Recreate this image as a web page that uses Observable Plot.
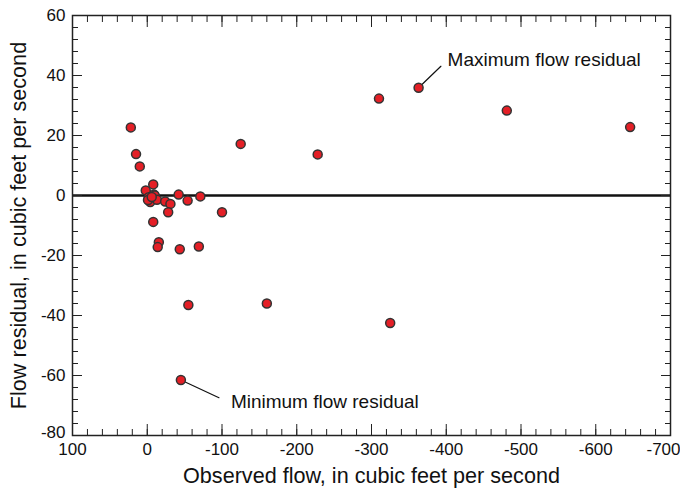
<!DOCTYPE html>
<html>
<head>
<meta charset="utf-8">
<script src="https://cdn.jsdelivr.net/npm/d3@7"></script>
<script src="https://cdn.jsdelivr.net/npm/@observablehq/plot@0.6"></script>
<style>
  html, body { margin: 0; padding: 0; background: #fff; }
  #chart svg { display: block; }
</style>
</head>
<body>
<div id="chart"></div>
<script>
// Observed flow (x) and flow residual (y), cubic feet per second
const observedFlow = [22, 15, 10, -8, 2, -2, -9, -10, -4, -13, -24, -31, -28, -42, -54, -71, -100, -8, -15.5, -14, -43.5, -69, -125, -363, -481, -646, -310, -228, -325, -160, -55, -45, -1, -6];
const flowResidual = [22.7, 13.8, 9.7, 3.7, 1.7, -0.6, 0.3, 0, -2.2, -1.4, -2, -2.8, -5.6, 0.3, -1.7, -0.3, -5.6, -8.8, -15.6, -17.2, -17.9, -17, 17.2, 35.9, 28.3, 22.8, 32.3, 13.7, -42.5, -36, -36.5, -61.5, -1.5, -0.5];

const xTickLabels = [100, 0, -100, -200, -300, -400, -500, -600, -700];
const yTickLabels = [60, 40, 20, 0, -20, -40, -60, -80];
const xMinorTicks = d3.range(100, -701, -20);
const yMinorTicks = d3.range(60, -81, -4);

const xTitle = "Observed flow, in cubic feet per second";
const yTitle = "Flow residual, in cubic feet per second";
const annotations = ["Maximum flow residual", "Minimum flow residual"];

const points = observedFlow.map((x, i) => ({x, y: flowResidual[i]}));

const font = "'Liberation Sans', Arial, sans-serif";
const lineShape = {draw(context, l) { context.moveTo(0, 0); context.lineTo(0, -l); }};
const noText = () => "";
const fmt = d => String(d);

const xLast = xTickLabels[xTickLabels.length - 1];
const yLast = yTickLabels[yTickLabels.length - 1];

const chart = Plot.plot({
  width: 680,
  height: 491,
  marginLeft: 72,
  marginRight: 10,
  marginTop: 15,
  marginBottom: 56,
  x: {domain: [100, -700], label: null},
  y: {domain: [-80, 60], label: null},
  style: {fontFamily: font, fontSize: "17px", color: "#111", background: "#fff"},
  marks: [
    Plot.ruleY([0], {stroke: "#111", strokeWidth: 2.5}),
    // minor ticks (inward)
    Plot.axisX({anchor: "bottom", ticks: xMinorTicks, tickSize: -6, tickFormat: noText, label: null, stroke: "#222"}),
    Plot.axisX({anchor: "top", ticks: xMinorTicks, tickSize: -6, tickFormat: noText, label: null, stroke: "#222"}),
    Plot.axisY({anchor: "left", ticks: yMinorTicks, tickSize: -6, tickFormat: noText, label: null, stroke: "#222"}),
    Plot.axisY({anchor: "right", ticks: yMinorTicks, tickSize: -6, tickFormat: noText, label: null, stroke: "#222"}),
    // major ticks (inward)
    Plot.axisX({anchor: "bottom", ticks: xTickLabels, tickSize: -11, tickFormat: noText, label: null, stroke: "#222"}),
    Plot.axisX({anchor: "top", ticks: xTickLabels, tickSize: -11, tickFormat: noText, label: null, stroke: "#222"}),
    Plot.axisY({anchor: "left", ticks: yTickLabels, tickSize: -10, tickFormat: noText, label: null, stroke: "#222"}),
    Plot.axisY({anchor: "right", ticks: yTickLabels, tickSize: -10, tickFormat: noText, label: null, stroke: "#222"}),
    // tick labels
    Plot.axisX({anchor: "bottom", ticks: xTickLabels.filter(d => d !== xLast), tickSize: 0, tickPadding: 7, tickFormat: fmt, label: null, fontSize: 17}),
    Plot.axisX({anchor: "bottom", ticks: [xLast], tickSize: 0, tickPadding: 7, tickFormat: fmt, label: null, fontSize: 17, dx: -7}),
    Plot.axisY({anchor: "left", ticks: yTickLabels.filter(d => d !== yLast), tickSize: 0, tickPadding: 7, tickFormat: fmt, label: null, fontSize: 17}),
    Plot.axisY({anchor: "left", ticks: [yLast], tickSize: 0, tickPadding: 7, tickFormat: fmt, label: null, fontSize: 17, dy: -3}),
    Plot.frame({stroke: "#222", strokeWidth: 1.5}),
    // axis titles
    Plot.text([xTitle], {frameAnchor: "bottom", text: d => d, dy: 41, fontSize: 21.6, lineAnchor: "middle", textAnchor: "middle", fill: "#111"}),
    Plot.text([yTitle], {frameAnchor: "left", text: d => d, dx: -53, rotate: -90, fontSize: 21.6, lineAnchor: "middle", textAnchor: "middle", fill: "#111"}),
    // leader lines
    Plot.vector(points, Plot.selectMaxY({x: "x", y: "y", length: 31, rotate: 46, anchor: "start", shape: lineShape, stroke: "#111", strokeWidth: 1.2})),
    Plot.vector(points, Plot.selectMinY({x: "x", y: "y", length: 42, rotate: 115, anchor: "start", shape: lineShape, stroke: "#111", strokeWidth: 1.2})),
    // points
    Plot.dot(points, {x: "x", y: "y", r: 4.5, fill: "#e41f26", stroke: "#333", strokeWidth: 1.5}),
    // annotations
    Plot.text(points, Plot.selectMaxY({x: "x", y: "y", text: () => annotations[0], textAnchor: "start", dx: 29, dy: -28, fontSize: 19, fill: "#111"})),
    Plot.text(points, Plot.selectMinY({x: "x", y: "y", text: () => annotations[1], textAnchor: "start", dx: 50, dy: 22, fontSize: 19, fill: "#111"}))
  ]
});
document.getElementById("chart").appendChild(chart);
</script>
</body>
</html>
